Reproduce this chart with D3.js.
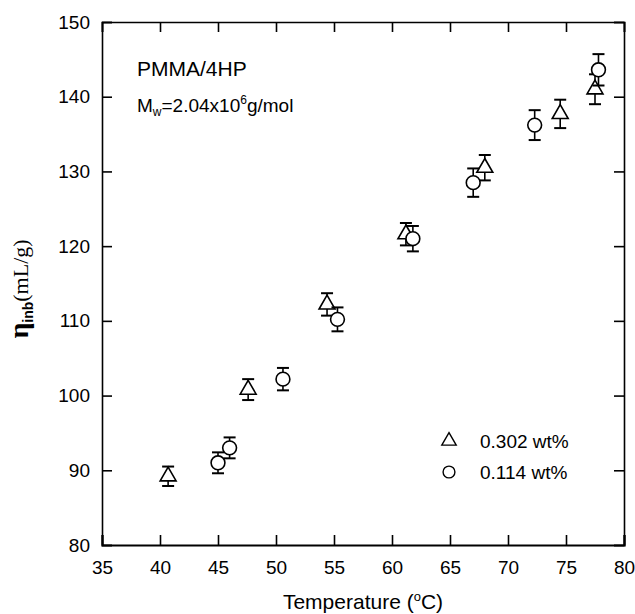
<!DOCTYPE html>
<html>
<head>
<meta charset="utf-8">
<script src="https://cdn.jsdelivr.net/npm/d3@7"></script>
<style>
  body { margin: 0; background: #fff; }
  svg text { font-family: "Liberation Sans", Arial, sans-serif; fill: #000; }
</style>
</head>
<body>
<svg id="chart" width="635" height="614"></svg>
<script>
// Données
var triTemp = [40.7, 47.6, 54.4, 61.2, 68.0, 74.5, 77.5];
var triEta  = [89.2, 100.8, 112.2, 121.6, 130.5, 137.7, 141.0];
var triErr  = [1.3, 1.4, 1.5, 1.5, 1.7, 1.9, 2.0];

var cirTemp = [45.0, 46.0, 50.6, 55.3, 61.8, 67.0, 72.3, 77.8];
var cirEta  = [91.0, 93.0, 102.2, 110.2, 121.0, 128.5, 136.2, 143.6];
var cirErr  = [1.4, 1.4, 1.5, 1.6, 1.7, 1.9, 2.0, 2.1];

var xTicks = [35, 40, 45, 50, 55, 60, 65, 70, 75, 80];
var yTicks = [80, 90, 100, 110, 120, 130, 140, 150];
var legendLabels = ["0.302 wt%", "0.114 wt%"];

var svg = d3.select("#chart");
var x = d3.scaleLinear().domain([35, 80]).range([102, 624]);
var y = d3.scaleLinear().domain([80, 150]).range([545, 22]);

// Axes (ticks vers l'intérieur sur les quatre côtés)
var tick = 10;
svg.append("g").attr("transform", "translate(0," + y(80) + ")")
  .call(d3.axisBottom(x).tickValues(xTicks).tickSize(-tick).tickPadding(16))
  .call(g => g.select(".domain").attr("stroke-width", 2.2));
svg.append("g").attr("transform", "translate(0," + y(150) + ")")
  .call(d3.axisTop(x).tickValues(xTicks).tickSize(-tick).tickFormat(""));
svg.append("g").attr("transform", "translate(" + x(35) + ",0)")
  .call(d3.axisLeft(y).tickValues(yTicks).tickSize(-tick).tickPadding(12));
svg.append("g").attr("transform", "translate(" + x(80) + ",0)")
  .call(d3.axisRight(y).tickValues(yTicks).tickSize(-tick).tickFormat(""));

svg.selectAll(".domain").attr("stroke-width", function () { return d3.select(this).attr("stroke-width") || 1.6; });
svg.selectAll(".tick line").attr("stroke-width", 1.6);
svg.selectAll(".tick text").style("font-size", "19px");

// Barres d'erreur + symboles
function drawSeries (temps, etas, errs, shape) {
  var pts = temps.map((t, i) => ({ t: t, v: etas[i], e: errs[i] }));
  var g = svg.append("g").attr("stroke", "#000").attr("stroke-width", 1.6).attr("fill", "none");
  pts.forEach(d => {
    var cx = x(d.t), y0 = y(d.v - d.e), y1 = y(d.v + d.e);
    g.append("line").attr("x1", cx).attr("x2", cx).attr("y1", y0).attr("y2", y1);
    g.append("line").attr("x1", cx - 6).attr("x2", cx + 6).attr("y1", y0).attr("y2", y0).attr("stroke-width", 2);
    g.append("line").attr("x1", cx - 6).attr("x2", cx + 6).attr("y1", y1).attr("y2", y1).attr("stroke-width", 2);
  });
  g.selectAll("path.m").data(pts).join("path").attr("class", "m")
    .attr("fill", "#fff")
    .attr("d", d3.symbol().type(shape).size(shape === d3.symbolCircle ? 150 : 110))
    .attr("transform", d => "translate(" + x(d.t) + "," + y(d.v) + ")");
}
drawSeries(triTemp, triEta, triErr, d3.symbolTriangle);
drawSeries(cirTemp, cirEta, cirErr, d3.symbolCircle);

// Légende
[d3.symbolTriangle, d3.symbolCircle].forEach((s, i) => {
  var ly = 441 + i * 31;
  svg.append("path").attr("d", d3.symbol().type(s).size(s === d3.symbolCircle ? 110 : 90))
    .attr("transform", "translate(449," + ly + ")").attr("fill", "none").attr("stroke", "#000").attr("stroke-width", 1.4);
  svg.append("text").attr("x", 480).attr("y", ly + 7).style("font-size", "19px").text(legendLabels[i]);
});

// Annotations
svg.append("text").attr("x", 137).attr("y", 76).style("font-size", "21px").text("PMMA/4HP");
var mw = svg.append("text").attr("x", 137).attr("y", 112).style("font-size", "19px");
mw.append("tspan").text("M");
mw.append("tspan").attr("dy", 4).style("font-size", "12px").text("w");
mw.append("tspan").attr("dy", -4).text("=2.04x10");
mw.append("tspan").attr("dy", -8).style("font-size", "12px").text("6");
mw.append("tspan").attr("dy", 8).text("g/mol");

// Titres des axes
var xl = svg.append("text").attr("x", 363).attr("y", 609).attr("text-anchor", "middle").style("font-size", "21px");
xl.append("tspan").text("Temperature (");
xl.append("tspan").attr("dy", -8).style("font-size", "13px").text("o");
xl.append("tspan").attr("dy", 8).text("C)");

var yl = svg.append("text").attr("transform", "translate(28,289) rotate(-90)").attr("text-anchor", "middle");
yl.append("tspan").style("font-family", "'Liberation Serif', serif").style("font-weight", "bold").style("font-size", "28px").text("η");
yl.append("tspan").attr("dy", 5).style("font-weight", "bold").style("font-size", "14px").text("inb");
yl.append("tspan").attr("dy", -5).style("font-family", "'Liberation Serif', serif").style("font-size", "22px").text("(mL/g)");
</script>
</body>
</html>
